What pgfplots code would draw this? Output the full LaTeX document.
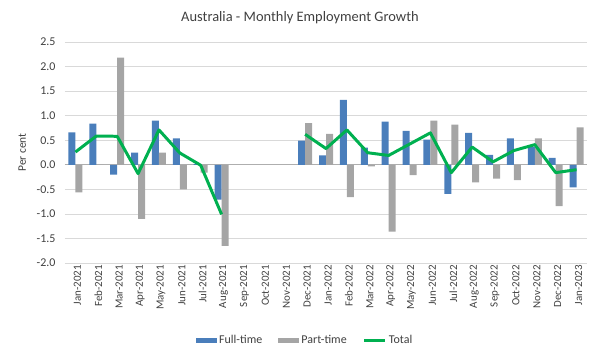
\documentclass[border=0pt]{standalone}
\usepackage{pgfplots}
\pgfplotsset{compat=1.18}
\usepackage{pgfplotstable}
\usepackage{fontspec}
\setmainfont{Carlito}
\definecolor{ftc}{HTML}{4A7EBB}
\definecolor{ptc}{HTML}{A5A5A5}
\definecolor{totc}{HTML}{00B050}
\definecolor{txt}{HTML}{404040}
\definecolor{gridc}{HTML}{D9D9D9}
\pgfplotstableread{
x ft pt tot
0 0.66 -0.56 0.26
1 0.84 0.00 0.585
2 -0.20 2.18 0.58
3 0.25 -1.10 -0.18
4 0.90 0.245 0.71
5 0.54 -0.50 0.24
6 0.02 -0.16 -0.01
7 -0.71 -1.65 -1.01
8 nan nan nan
9 nan nan nan
10 nan nan nan
11 0.49 0.85 0.62
12 0.19 0.63 0.33
13 1.32 -0.66 0.71
14 0.35 -0.03 0.245
15 0.88 -1.36 0.19
16 0.69 -0.21 0.42
17 0.51 0.90 0.65
18 -0.59 0.82 -0.16
19 0.65 -0.36 0.36
20 0.20 -0.28 0.06
21 0.54 -0.31 0.29
22 0.37 0.54 0.41
23 0.14 -0.84 -0.16
24 -0.46 0.76 -0.10
}\data
\begin{document}
\begin{tikzpicture}
\useasboundingbox (-65bp,-97bp) rectangle (535bp,263bp);
\begin{axis}[
  at={(0,0)}, anchor=south west, scale only axis,
  width=522bp, height=221bp,
  xmin=-0.5, xmax=24.5, ymin=-2, ymax=2.5,
  ytick={-2,-1.5,...,2.5},
  extra y ticks={0}, extra y tick labels={},
  extra y tick style={grid style={draw=gridc!80!black, line width=0.7pt}},
  axis line style={draw=none}, major tick style={draw=none},
  ymajorgrids, grid style={draw=gridc, line width=0.6pt},
  xtick={0,...,24},
  xticklabels={Jan-2021,Feb-2021,Mar-2021,Apr-2021,May-2021,Jun-2021,Jul-2021,Aug-2021,Sep-2021,Oct-2021,Nov-2021,Dec-2021,Jan-2022,Feb-2022,Mar-2022,Apr-2022,May-2022,Jun-2022,Jul-2022,Aug-2022,Sep-2022,Oct-2022,Nov-2022,Dec-2022,Jan-2023},
  xticklabel style={rotate=90, anchor=east, font=\fontsize{11}{12}\selectfont, text=txt, inner sep=2pt, yshift=-2bp},
  yticklabel style={font=\fontsize{12}{13}\selectfont, text=txt, xshift=-6bp},
  yticklabel={\pgfmathprintnumber[fixed,fixed zerofill,precision=1,assume math mode=true]{\tick}},
  ylabel={Per cent}, ylabel style={font=\fontsize{11.5}{13}\selectfont, text=txt, yshift=4bp},
  unbounded coords=jump,
  legend style={at={(0.46,-0.35)}, anchor=center, legend columns=3, draw=none,
    font=\fontsize{12}{13}\selectfont, text=txt,
    /tikz/every even column/.append style={column sep=14pt}},
  legend cell align=left,
]
\addplot[ybar, bar width=7bp, bar shift=-3.5bp, fill=ftc, draw=none,
  legend image code/.code={\fill[ftc] (0cm,-0.1cm) rectangle (0.75cm,0.1cm);}]
  table[x=x, y=ft] {\data};
\addlegendentry{Full-time}
\addplot[ybar, bar width=7bp, bar shift=3.5bp, fill=ptc, draw=none,
  legend image code/.code={\fill[ptc] (0cm,-0.1cm) rectangle (0.75cm,0.1cm);}]
  table[x=x, y=pt] {\data};
\addlegendentry{Part-time}
\addplot[totc, line width=3pt, line join=round, mark=none,
  legend image code/.code={\draw[totc, line width=3pt] (0cm,0cm) -- (0.75cm,0cm);}]
  table[x=x, y=tot] {\data};
\addlegendentry{Total}
\end{axis}
\node[text=txt, font=\fontsize{14.5}{16}\selectfont] at (235bp,245bp) {Australia - Monthly Employment Growth};
\end{tikzpicture}
\end{document}
